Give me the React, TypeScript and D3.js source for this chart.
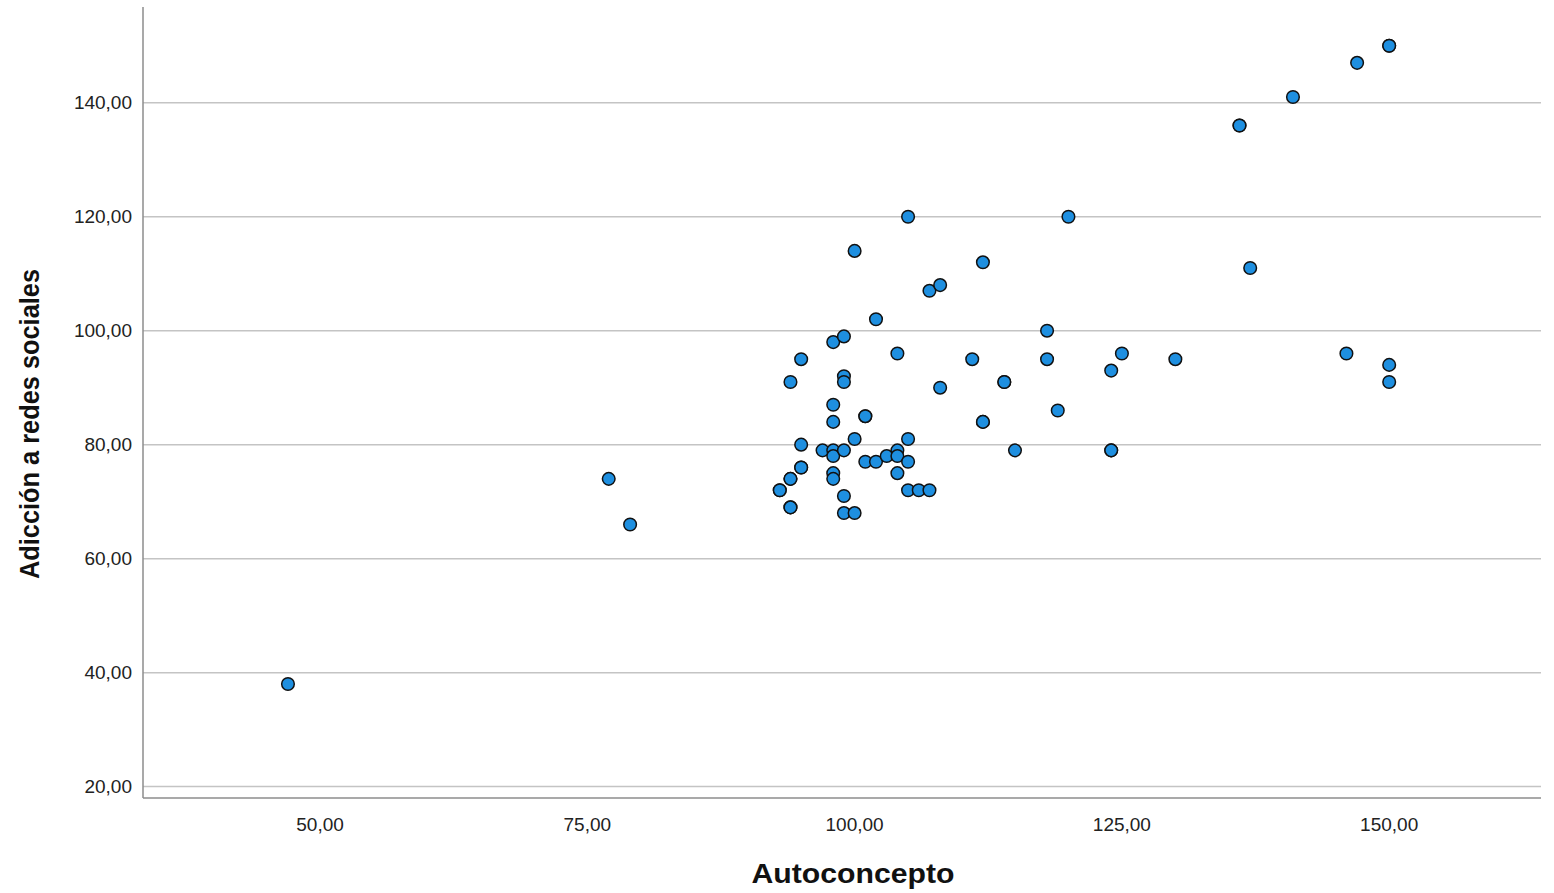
import React from "react";
import * as d3 from "d3";

// Autoconcepto (x) and Adicción a redes sociales (y), one entry per case
const autoconcepto = [
  47, 77, 79, 93, 93, 94, 94, 94, 94, 94, 95, 95, 95, 95, 97, 98, 98, 98, 98, 98, 98, 98,
  99, 99, 99, 99, 99, 99, 100, 100, 100, 101, 101, 101, 102, 102, 103, 104, 104, 104, 104,
  105, 105, 105, 105, 106, 107, 107, 108, 108, 111, 112, 112, 112, 114, 114, 115, 118, 118,
  119, 120, 124, 124, 124, 125, 130, 136, 136, 137, 141, 146, 147, 150, 150, 150, 150,
];
const adiccion = [
  38, 74, 66, 72, 72, 91, 74, 74, 69, 69, 95, 80, 76, 76, 79, 98, 87, 84, 79, 78, 75, 74,
  99, 92, 91, 79, 71, 68, 114, 81, 68, 85, 85, 77, 102, 77, 78, 96, 79, 78, 75,
  120, 81, 77, 72, 72, 72, 107, 108, 90, 95, 112, 84, 84, 91, 91, 79, 100, 95,
  86, 120, 93, 79, 79, 96, 95, 136, 136, 111, 141, 96, 147, 150, 150, 94, 91,
];

const xTicks = [50, 75, 100, 125, 150];
const yTicks = [20, 40, 60, 80, 100, 120, 140];

const xTitle = "Autoconcepto";
const yTitle = "Adicción a redes sociales";

const W = 1554;
const H = 893;
const left = 143;
const right = 1541;
const top = 7;
const bottom = 798;

const fmt = (v: number) => d3.format(".2f")(v).replace(".", ",");

export default function App() {
  const x = d3.scaleLinear().domain([33.44, 164.2]).range([left, right]);
  const y = d3.scaleLinear().domain([18.0, 156.8]).range([bottom, top]);

  const points = autoconcepto.map((v, i) => ({ x: v, y: adiccion[i] }));
  const font = "Arial, 'Liberation Sans', sans-serif";

  return (
    <svg width={W} height={H} style={{ display: "block", position: "absolute", left: 0, top: 0 }}>
      <rect width={W} height={H} fill="#fff" />
      {yTicks.map((t) => (
        <g key={t}>
          <line x1={left} x2={right} y1={y(t)} y2={y(t)} stroke="#c4c4c4" strokeWidth={1.5} />
          <text x={132} y={y(t)} dy="0.35em" textAnchor="end" fontSize={19} fontFamily={font} fill="#222">
            {fmt(t)}
          </text>
        </g>
      ))}
      <line x1={left} x2={left} y1={top} y2={bottom} stroke="#8c8c8c" strokeWidth={1.5} />
      <line x1={left} x2={right} y1={bottom} y2={bottom} stroke="#8c8c8c" strokeWidth={1.5} />
      {xTicks.map((t) => (
        <text key={t} x={x(t)} y={831} textAnchor="middle" fontSize={19} fontFamily={font} fill="#222">
          {fmt(t)}
        </text>
      ))}
      {points.map((p, i) => (
        <circle key={i} cx={x(p.x)} cy={y(p.y)} r={6.3} fill="#1e8fe0" stroke="#111" strokeWidth={1.5} />
      ))}
      <text
        x={853}
        y={883}
        textAnchor="middle"
        fontSize={28}
        fontWeight="bold"
        fontFamily={font}
        fill="#111"
        textLength={203}
        lengthAdjust="spacingAndGlyphs"
      >
        {xTitle}
      </text>
      <text
        transform={`translate(39, ${424}) rotate(-90)`}
        textAnchor="middle"
        fontSize={28}
        fontWeight="bold"
        fontFamily={font}
        fill="#111"
        textLength={310}
        lengthAdjust="spacingAndGlyphs"
      >
        {yTitle}
      </text>
    </svg>
  );
}
